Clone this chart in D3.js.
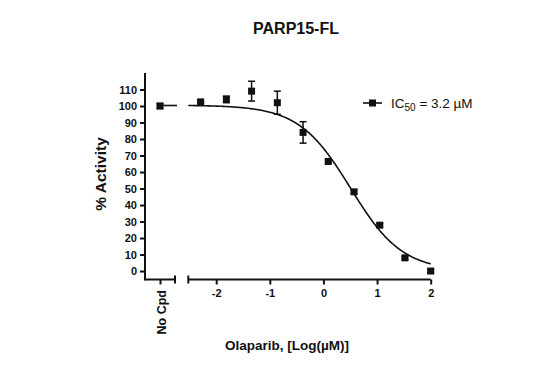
<!DOCTYPE html>
<html>
<head>
<meta charset="utf-8">
<script src="https://cdn.jsdelivr.net/npm/d3@7"></script>
<style>
  html, body { margin: 0; padding: 0; background: #fff; }
  svg { display: block; }
  text { font-family: "Liberation Sans", Arial, Helvetica, sans-serif; fill: #111; }
</style>
</head>
<body>
<svg id="chart" width="545" height="366"></svg>
<script>
// ---- data ----
const chartTitle = "PARP15-FL";
const xTitle = "Olaparib, [Log(\u00b5M)]";
const yTitle = "% Activity";
const controlLabel = "No Cpd";
const controlValue = 100;
const controlError = 1.5;
const logConc = [-2.29, -1.81, -1.34, -0.86, -0.38, 0.09, 0.57, 1.05, 1.52, 2.0];
const activity = [102.5, 104, 109, 102, 84, 66.4, 48, 27.8, 8, 0];
const activityErr = [0.5, 2, 6, 7, 6.5, 1, 1, 1, 1, 1];
const yTicks = [0, 10, 20, 30, 40, 50, 60, 70, 80, 90, 100, 110];
const xTicks = [-2, -1, 0, 1, 2];
// four-parameter logistic fit shown in the chart
const fitTop = 100.5, fitBottom = 0, fitLogIC50 = 0.505, fitHill = 0.9;
const legendMain = "IC", legendSub = "50", legendRest = " = 3.2 \u00b5M";

const svg = d3.select("#chart");
const ink = "#111";

const y = d3.scaleLinear().domain([-5, 120]).range([279.3, 73]);
const x = d3.scaleLinear().domain([-2.52, 2]).range([188.3, 430.7]);
const xc = d3.scalePoint().domain([controlLabel]).range([145, 175]).padding(0.5);
const axisY = 279.5;

// y axis
const gy = svg.append("g").attr("transform", "translate(145,0)")
  .call(d3.axisLeft(y).tickValues(yTicks).tickSize(5).tickPadding(3).tickFormat(d => String(d)));
gy.select(".domain").attr("d", `M0,${y(120)}V${axisY + 1}`).attr("stroke", ink).attr("stroke-width", 2);
gy.selectAll(".tick line").attr("stroke", ink).attr("stroke-width", 2);
gy.selectAll(".tick text").attr("font-size", 11).attr("font-weight", "bold").style("font-family", "Liberation Sans, Arial, sans-serif").attr("fill", ink);

// x axis (main)
const gx = svg.append("g").attr("transform", `translate(0,${axisY})`)
  .call(d3.axisBottom(x).tickValues(xTicks).tickSize(5).tickPadding(5).tickFormat(d => String(d)));
gx.select(".domain").attr("d", `M${x.range()[0]},0H${x.range()[1]}`).attr("stroke", ink).attr("stroke-width", 2);
gx.selectAll(".tick line").attr("stroke", ink).attr("stroke-width", 2);
gx.selectAll(".tick text").attr("font-size", 11).attr("font-weight", "bold").style("font-family", "Liberation Sans, Arial, sans-serif").attr("fill", ink);
gx.append("line").attr("x1", x.range()[0]).attr("x2", x.range()[0]).attr("y1", -4).attr("y2", 4)
  .attr("stroke", ink).attr("stroke-width", 2);

// x axis (control segment)
const gc = svg.append("g").attr("transform", `translate(0,${axisY})`)
  .call(d3.axisBottom(xc).tickSize(5).tickFormat(""));
gc.select(".domain").attr("d", `M145,0H${xc.range()[1]}`).attr("stroke", ink).attr("stroke-width", 2);
gc.selectAll(".tick line").attr("stroke", ink).attr("stroke-width", 2);
gc.append("line").attr("x1", xc.range()[1]).attr("x2", xc.range()[1]).attr("y1", -4).attr("y2", 4)
  .attr("stroke", ink).attr("stroke-width", 2);
svg.append("text").attr("transform", `translate(${xc(controlLabel) + 2},${axisY + 10.5}) rotate(-90)`)
  .attr("text-anchor", "end").attr("dy", "0.35em").attr("font-size", 12.5).attr("font-weight", "bold")
  .text(controlLabel);

// fitted curve
const curveX = d3.range(x.domain()[0], x.domain()[1] + 0.0001, 0.02);
const fit = v => fitBottom + (fitTop - fitBottom) / (1 + Math.pow(10, (v - fitLogIC50) * fitHill));
svg.append("path")
  .datum(curveX)
  .attr("fill", "none").attr("stroke", ink).attr("stroke-width", 1.6)
  .attr("d", d3.line().x(d => x(d)).y(d => y(fit(d))));
// short level line in the control segment
svg.append("line")
  .attr("x1", xc(controlLabel)).attr("x2", xc.range()[1] + 2)
  .attr("y1", y(fit(x.domain()[0]))).attr("y2", y(fit(x.domain()[0])))
  .attr("stroke", ink).attr("stroke-width", 1.6);

// error bars
const pts = logConc.map((v, i) => ({ px: x(v), v: activity[i], e: activityErr[i] }));
pts.push({ px: xc(controlLabel), v: controlValue, e: controlError });
const eb = svg.append("g").attr("stroke", ink).attr("stroke-width", 1.5);
pts.forEach(p => {
  eb.append("line").attr("x1", p.px).attr("x2", p.px).attr("y1", y(p.v - p.e)).attr("y2", y(p.v + p.e));
  [p.v - p.e, p.v + p.e].forEach(val => {
    eb.append("line").attr("x1", p.px - 3.5).attr("x2", p.px + 3.5).attr("y1", y(val)).attr("y2", y(val));
  });
});
// markers
const ms = 7;
svg.append("g").selectAll("rect").data(pts).join("rect")
  .attr("x", d => d.px - ms / 2).attr("y", d => y(d.v) - ms / 2)
  .attr("width", ms).attr("height", ms).attr("fill", ink);

// legend
const lg = svg.append("g").attr("transform", "translate(363,103)");
lg.append("line").attr("x1", 0).attr("x2", 19).attr("y1", 0).attr("y2", 0).attr("stroke", ink).attr("stroke-width", 1.6);
lg.append("rect").attr("x", 9.5 - 3.5).attr("y", -3.5).attr("width", 7).attr("height", 7).attr("fill", ink);
const lt = lg.append("text").attr("x", 28).attr("y", 4.5).attr("font-size", 13.5);
lt.append("tspan").text(legendMain);
lt.append("tspan").attr("font-size", 10).attr("dy", 3).text(legendSub);
lt.append("tspan").attr("dy", -3).text(legendRest);

// titles
svg.append("text").attr("x", 296).attr("y", 34).attr("text-anchor", "middle")
  .attr("font-size", 16).attr("font-weight", "bold").text(chartTitle);
svg.append("text").attr("x", 287).attr("y", 350).attr("text-anchor", "middle")
  .attr("font-size", 13.5).attr("font-weight", "bold").text(xTitle);
svg.append("text").attr("transform", "translate(106,174) rotate(-90)").attr("text-anchor", "middle")
  .attr("font-size", 15.5).attr("font-weight", "bold").text(yTitle);
</script>
</body>
</html>
